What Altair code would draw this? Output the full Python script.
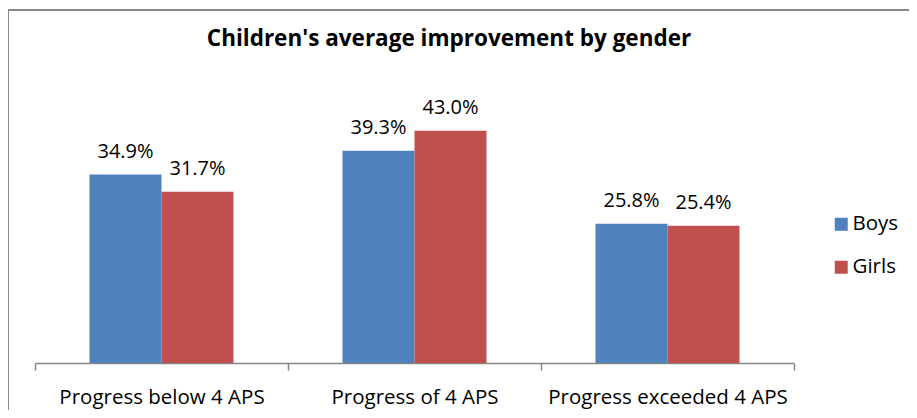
import altair as alt
import pandas as pd

categories = ["Progress below 4 APS", "Progress of 4 APS", "Progress exceeded 4 APS"]
genders = ["Boys", "Girls"]
boys = [34.9, 39.3, 25.8]
girls = [31.7, 43.0, 25.4]
colors = ["#4F81BD", "#C0504D"]
title_text = "Children's average improvement by gender"

rows = []
for c, b, g in zip(categories, boys, girls):
    rows.append({"category": c, "gender": "Boys", "value": b})
    rows.append({"category": c, "gender": "Girls", "value": g})
df = pd.DataFrame(rows)

FONT = "Open Sans"
FS = 20.5

x = alt.X("category:N", sort=categories,
          scale=alt.Scale(paddingInner=0, paddingOuter=0),
          axis=alt.Axis(title=None, labelAngle=0, tickBand="extent", labelLimit=0,
                        domainColor="#868686", tickColor="#868686", domainWidth=1.5,
                        tickWidth=1.5, tickSize=7, labelPadding=17,
                        labelFont=FONT, labelFontSize=FS, labelColor="black"))
y = alt.Y("value:Q", scale=alt.Scale(domain=[0, 50]), axis=None)
xo = alt.XOffset("gender:N", sort=genders,
                 scale=alt.Scale(paddingInner=0, paddingOuter=0.757))

base = alt.Chart(df).encode(x=x, y=y, xOffset=xo)

bars = base.mark_bar(strokeWidth=0).encode(
    color=alt.Color("gender:N",
                    scale=alt.Scale(domain=genders, range=colors),
                    legend=alt.Legend(title=None, orient="none", legendX=796, legendY=121,
                                      symbolType="square", symbolSize=169,
                                      symbolStrokeWidth=0, labelFont=FONT,
                                      labelFontSize=FS, labelColor="black",
                                      rowPadding=22, labelOffset=1, padding=0))
)

labels = base.mark_text(baseline="alphabetic", dy=-17, font=FONT, fontSize=20,
                        color="black").transform_calculate(
    label="format(datum.value, '.1f') + '%'"
).encode(text="label:N")

one = alt.Data(values=[{"k": 1}])

frame = alt.Chart(one).mark_rect(fill="transparent", stroke="#888888", strokeWidth=2).encode(
    x=alt.value(-27), x2=alt.value(900), y=alt.value(-83), y2=alt.value(430)
)

title = alt.Chart(one).mark_text(text=title_text, font=FONT, fontSize=22.5, fontWeight="bold",
                                 color="black", align="center", baseline="alphabetic").encode(
    x=alt.value(414), y=alt.value(-47)
)

chart = alt.layer(frame, bars, labels, title).properties(
    width=759, height=270,
    autosize=alt.AutoSizeParams(type="none"),
    padding={"left": 27, "top": 85, "right": 115, "bottom": 47},
).configure_view(stroke=None)

chart.save("out.html", embed_options={"renderer": "svg", "actions": False})
